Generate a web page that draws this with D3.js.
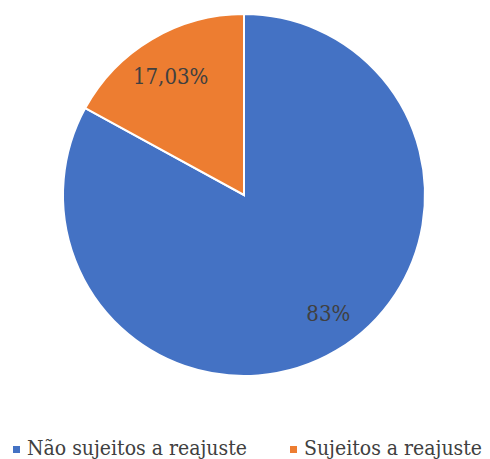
<!DOCTYPE html>
<html>
<head>
<meta charset="utf-8">
<script src="https://cdn.jsdelivr.net/npm/d3@7"></script>
<style>
    body { margin: 0; background: #fff; }
</style>
</head>
<body>
<script>
var categories = ["Não sujeitos a reajuste", "Sujeitos a reajuste"];
var values = [83, 17.03];
var labels = ["83%", "17,03%"];
var colors = ["#4472C4", "#ED7D31"];

(function () {
    var width = 490,
        height = 459,
        cx = 244,
        cy = 195,
        radius = 181,
        font = "'DejaVu Serif Condensed', 'DejaVu Serif', serif";

    var svg = d3.select("body")
        .append("svg")
        .attr("width", width)
        .attr("height", height)
        .style("font-family", font)
        .style("font-stretch", "condensed");

    var data = categories.map(function (c, i) {
        return { name: c, value: values[i], label: labels[i], color: colors[i] };
    });

    var pie = d3.pie()
        .sort(null)
        .value(function (d) { return d.value; });

    var arc = d3.arc().innerRadius(0).outerRadius(radius);
    var labelArc = d3.arc().innerRadius(138).outerRadius(138);

    var g = svg.append("g")
        .attr("transform", "translate(" + cx + "," + cy + ")");

    var slices = g.selectAll("g.slice")
        .data(pie(data))
        .enter().append("g")
        .attr("class", "slice");

    slices.append("path")
        .attr("d", arc)
        .attr("fill", function (d) { return d.data.color; })
        .attr("stroke", "#fff")
        .attr("stroke-width", 2);

    slices.append("text")
        .attr("transform", function (d) {
            var c = labelArc.centroid(d);
            // excel's best-fit nudges the labels a little
            if (d.index === 0) c[0] += 14;
            else c[0] -= 3;
            return "translate(" + c + ")";
        })
        .attr("text-anchor", "middle")
        .attr("dy", "0.35em")
        .attr("font-size", 22)
        .attr("fill", "#404040")
        .text(function (d) { return d.data.label; });

    // legend
    var legendX = [13, 290];
    var legend = svg.selectAll("g.legend")
        .data(data)
        .enter().append("g")
        .attr("class", "legend")
        .attr("transform", function (d, i) {
            return "translate(" + legendX[i] + ",455)";
        });

    legend.append("rect")
        .attr("x", 0)
        .attr("y", -9)
        .attr("width", 7)
        .attr("height", 7)
        .attr("fill", function (d) { return d.color; });

    legend.append("text")
        .attr("x", 14)
        .attr("y", 0)
        .attr("font-size", 21)
        .attr("fill", "#404040")
        .text(function (d) { return d.name; });
}());
</script>
</body>
</html>
